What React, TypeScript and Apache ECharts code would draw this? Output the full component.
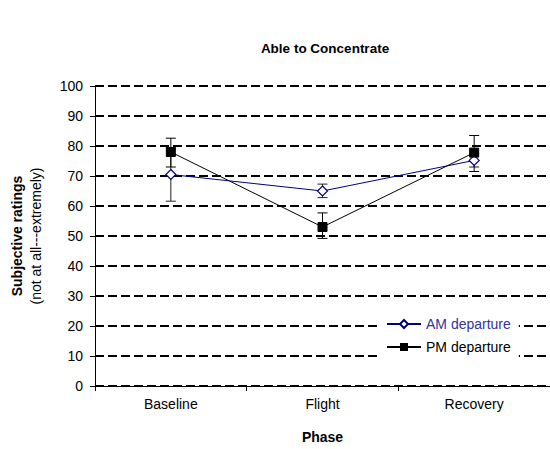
import React, { useEffect, useRef } from "react";
import * as echarts from "echarts";

const phases = ["Baseline", "Flight", "Recovery"];
const amMeans = [70.5, 65.0, 75.2];
const amLow = [61.6, 62.8, 73.0];
const amHigh = [79.4, 67.3, 77.4];
const pmMeans = [78.0, 53.0, 77.8];
const pmLow = [73.0, 49.2, 71.5];
const pmHigh = [82.6, 57.7, 83.5];

const FONT = 'Arial, "Liberation Sans", sans-serif';

export default function App() {
  const ref = useRef<HTMLDivElement>(null);
  useEffect(() => {
    if (!ref.current) return;
    const chart = echarts.init(ref.current, null, { renderer: "svg" });
    const errRender = (color: string) => (params: any, api: any) => {
      const x = api.value(0);
      const lo = api.coord([x, api.value(1)]);
      const hi = api.coord([x, api.value(2)]);
      const cap = 5;
      const style = { stroke: color, lineWidth: 1 };
      return {
        type: "group",
        children: [
          { type: "line", shape: { x1: lo[0], y1: lo[1], x2: hi[0], y2: hi[1] }, style },
          { type: "line", shape: { x1: lo[0] - cap, y1: lo[1], x2: lo[0] + cap, y2: lo[1] }, style },
          { type: "line", shape: { x1: hi[0] - cap, y1: hi[1], x2: hi[0] + cap, y2: hi[1] }, style },
        ],
      };
    };
    chart.setOption({
      animation: false,
      backgroundColor: "#fff",
      textStyle: { fontFamily: FONT },
      title: {
        text: "Able to Concentrate",
        left: 320,
        textAlign: "center",
        top: 36,
        textStyle: { fontFamily: FONT, fontSize: 13.5, fontWeight: "bold", color: "#000" },
      },
      grid: { left: 95, right: 0, top: 86, bottom: 58, containLabel: false },
      legend: {
        orient: "vertical",
        left: 381,
        top: 311,
        padding: [6, 8, 6, 5],
        backgroundColor: "#fff",
        itemWidth: 34,
        itemHeight: 10,
        itemGap: 9,
        textStyle: { fontFamily: FONT, fontSize: 14 },
        data: [
          { name: "AM departure", textStyle: { color: "#333399" } },
          { name: "PM departure", textStyle: { color: "#000" } },
        ],
      },
      xAxis: {
        type: "category",
        data: phases,
        boundaryGap: true,
        name: "Phase",
        nameLocation: "middle",
        nameGap: 44,
        nameTextStyle: { fontFamily: FONT, fontSize: 14, fontWeight: "bold", color: "#000" },
        axisLine: { lineStyle: { color: "#000", width: 1 } },
        axisTick: { show: true, length: 5, lineStyle: { color: "#000" } },
        axisLabel: { color: "#000", fontSize: 14, fontFamily: FONT, margin: 11 },
      },
      yAxis: {
        type: "value",
        min: 0,
        max: 100,
        interval: 10,
        name: "{a|Subjective ratings}\n{b|(not at all---extremely)}",
        nameLocation: "middle",
        nameRotate: 90,
        nameGap: 50,
        nameTextStyle: {
          fontFamily: FONT,
          color: "#000",
          rich: {
            a: { fontFamily: FONT, fontSize: 14, fontWeight: "bold", color: "#000", lineHeight: 19 },
            b: { fontFamily: FONT, fontSize: 14, color: "#000", lineHeight: 19 },
          },
        },
        axisLine: { show: true, lineStyle: { color: "#000", width: 1 } },
        axisTick: { show: true, length: 5, lineStyle: { color: "#000" } },
        axisLabel: { color: "#000", fontSize: 14, fontFamily: FONT, margin: 12 },
        splitLine: { show: true, lineStyle: { color: "#000", width: 2, type: [9, 4] } },
      },
      series: [
        {
          name: "AM error",
          type: "custom",
          renderItem: errRender("#222"),
          data: phases.map((_, i) => [i, amLow[i], amHigh[i]]),
          encode: { x: 0, y: [1, 2] },
          z: 3,
        },
        {
          name: "PM error",
          type: "custom",
          renderItem: errRender("#000"),
          data: phases.map((_, i) => [i, pmLow[i], pmHigh[i]]),
          encode: { x: 0, y: [1, 2] },
          z: 3,
        },
        {
          name: "AM departure",
          type: "line",
          data: amMeans,
          symbol: "diamond",
          symbolSize: 10,
          lineStyle: { color: "#000080", width: 1 },
          itemStyle: { color: "#fff", borderColor: "#000080", borderWidth: 1.2 },
          z: 4,
        },
        {
          name: "PM departure",
          type: "line",
          data: pmMeans,
          symbol: "rect",
          symbolSize: 9,
          lineStyle: { color: "#000", width: 1 },
          itemStyle: { color: "#000", borderColor: "#000" },
          z: 5,
        },
      ],
    });
    return () => chart.dispose();
  }, []);
  return (
    <div
      ref={ref}
      style={{ position: "absolute", left: 0, top: 0, width: 550, height: 449 }}
    />
  );
}
